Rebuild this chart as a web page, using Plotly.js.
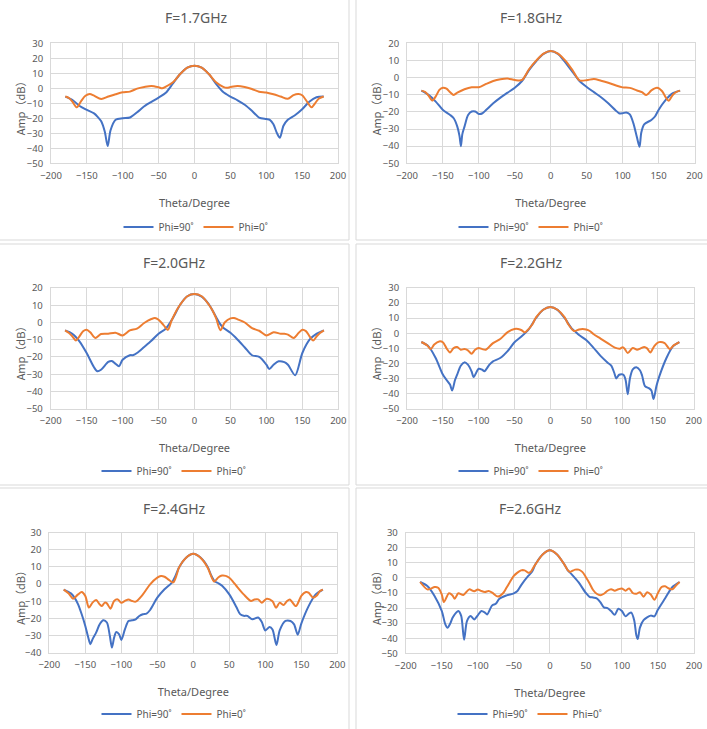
<!DOCTYPE html>
<html>
<head>
<meta charset="utf-8">
<script src="https://cdn.plot.ly/plotly-3.0.1.min.js"></script>
<style>
html, body { margin: 0; padding: 0; background: #fff; }
#chart { width: 707px; height: 729px; }
</style>
</head>
<body>
<div id="chart"></div>
<script>
// radiation pattern cuts, amplitude (dB) against theta (deg)
const titles = ["F=1.7GHz", "F=1.8GHz", "F=2.0GHz", "F=2.2GHz", "F=2.4GHz", "F=2.6GHz"];
const seriesNames = ["Phi=90˚", "Phi=0˚"];
const yRanges = [[-50, 30], [-50, 20], [-50, 20], [-50, 30], [-40, 30], [-50, 30]];

// 1.7 GHz
const theta17_90 = [-180,-170,-160,-150,-140,-135,-130,-125,-121,-117,-110,-100,-90,-80,-70,-60,-50,-40,-30,-20,-10,0,10,20,30,40,50,60,70,80,90,100,105,110,115,119,124,130,140,150,160,170,180];
const amp17_90 = [-5.5,-7.8,-11.8,-14.4,-16.7,-19,-22,-29,-38.5,-28,-21,-20,-19.5,-16,-12,-9,-6.2,-3,3.3,9.5,13.8,15.1,13.8,9.5,3,-2.5,-5.5,-8,-11,-15,-19.5,-20.5,-21,-24,-30,-33,-25,-21,-18,-14,-9,-6,-5.5];
const theta17_0 = [-180,-175,-170,-164,-158,-152,-146,-140,-130,-120,-110,-100,-90,-80,-70,-60,-50,-45,-40,-30,-20,-10,0,10,20,30,40,45,50,60,70,80,90,100,110,120,130,138,145,150,157,163,168,173,180];
const amp17_0 = [-5.5,-6.5,-9,-12.7,-8.5,-5,-3.8,-4.9,-7.1,-5.5,-4,-2.7,-2.2,-0.2,0.9,1.6,0.7,0,1.1,4,9.5,13.8,15.1,13.8,9.5,4,1,0.3,0.8,1.6,0.9,-0.5,-2.3,-2.8,-4,-5.5,-7,-4.5,-3.8,-4.6,-9,-12.7,-10,-7,-5.5];

// 1.8 GHz
const theta18_90 = [-180,-170,-160,-150,-140,-135,-130,-127,-125,-123,-120,-115,-110,-105,-100,-95,-90,-80,-70,-60,-50,-40,-30,-20,-10,0,10,20,30,40,50,60,70,80,90,95,100,105,110,115,120,123.5,126,130,140,145,150,160,170,180];
const amp18_90 = [-7.6,-10.1,-14,-18.9,-21.8,-23.7,-28.6,-34,-40,-33,-28.6,-21.8,-19.8,-19.8,-21.2,-20.8,-18.9,-15,-11.7,-8.8,-5.9,-2,4.5,9.7,13.8,15.5,13.8,9,3.5,-2,-5.5,-8.5,-11.5,-15,-19,-20.8,-20.8,-20.3,-21.5,-26.7,-35,-40.4,-32,-27.3,-24.7,-22.7,-18.9,-13,-9.1,-7.6];
const theta18_0 = [-180,-175,-170,-165,-160,-155,-150,-145,-140,-135,-130,-120,-110,-100,-90,-80,-70,-60,-50,-40,-30,-20,-10,0,10,20,30,40,50,60,70,80,90,100,110,120,127,133,140,148,155,160,164,170,175,180];
const amp18_0 = [-7.6,-8.3,-10.5,-13.4,-11,-7.2,-5.9,-6.5,-8.5,-10.1,-8.8,-6.8,-5.6,-5.6,-3.7,-2,-1,-0.6,-1.4,-1.4,5,10,14,15.5,14,10,4.5,-1.6,-1.5,-0.8,-1.8,-3,-4.5,-5.7,-6,-7.5,-8.5,-10.2,-7.5,-6,-8,-11.5,-13.5,-10,-8.3,-7.6];

// 2.0 GHz
const theta20_90 = [-180,-170,-160,-150,-140,-135,-130,-120,-115,-110,-105,-100,-90,-85,-80,-70,-60,-50,-40,-30,-20,-10,0,10,20,30,35,40,50,60,70,80,90,100,104,110,117,125,130,140,150,160,170,180];
const amp20_90 = [-4.6,-6.5,-10.9,-17.7,-25.8,-28.3,-27.4,-22.9,-22.3,-23.9,-25.4,-21.6,-19,-18.9,-17.7,-14.2,-10.6,-6.5,-3.6,2.6,10.3,15.2,16.5,15,10.5,3.2,-0.5,-3,-6,-10,-14.5,-19,-20,-24.5,-27,-24.5,-22.5,-23,-24.5,-30.6,-17.7,-10,-6.5,-4.6];
const theta20_0 = [-180,-175,-170,-165,-160,-155,-150,-145,-138,-130,-120,-110,-100,-90,-80,-70,-60,-55,-50,-43,-37,-32,-25,-20,-10,0,10,20,25,30,36,42,50,55,60,70,80,90,100,110,120,125,130,138,145,150,155,160,165,170,175,180];
const amp20_0 = [-4.6,-6,-8,-10.4,-8,-5.1,-4.2,-5.7,-9,-6.7,-6.5,-5.9,-7.5,-4.6,-3.6,-0.3,2,2.6,1.6,-1.5,-4.2,1,7,10.3,15.2,16.5,15.2,10.3,7,2.5,-4.5,0,2.4,2.6,1.8,0,-3.3,-4.8,-7.5,-5.7,-6.5,-6.5,-7,-9,-6,-4.2,-5,-8,-10.5,-8,-6,-4.6];

// 2.2 GHz
const theta22_90 = [-180,-170,-160,-150,-145,-140,-137,-133,-130,-125,-120,-115,-110,-107,-100,-95,-92,-85,-80,-70,-60,-50,-40,-30,-20,-10,0,10,20,30,35,40,50,60,70,80,85,89,92,96,102,105,108,111,115,120,125,128,132,138,141,144,148,152,162,171,180];
const amp22_90 = [-5.8,-8.7,-16.4,-27.4,-30.8,-34,-38,-31,-27.4,-21.5,-19.3,-20.8,-25.2,-29,-23.5,-24.2,-25.2,-20.8,-18.6,-16.4,-12,-6,-2,2.8,10.1,15.6,17.4,15.5,10,3,1,-1.2,-4.5,-9.5,-15,-19.5,-21.5,-26,-30,-27.5,-27.5,-31,-40.5,-30,-24,-22.6,-24.5,-28,-35,-36.5,-38,-43.6,-35,-28.6,-16.4,-8.7,-5.8];
const theta22_0 = [-180,-172,-167,-162,-155,-150,-145,-140,-135,-130,-125,-120,-115,-110,-105,-100,-95,-90,-80,-70,-60,-50,-45,-40,-36,-33,-25,-20,-10,0,10,20,25,33,40,45,50,55,60,70,80,90,97,101,104,108,115,121,126,131,135,139.5,145,151.5,159.5,166.5,172,180];
const amp22_0 = [-5.8,-8,-10.5,-7.5,-5.4,-6,-9.8,-12.7,-9.8,-9.1,-10.9,-10.5,-11.3,-13.6,-10.9,-9.8,-10.5,-10.9,-6.5,-3.8,0.6,2.8,2.8,2,0.6,1.5,6,10.5,15.6,17.4,15.6,10.5,6,1.5,2.5,2.8,2.5,1.5,-0.5,-3.5,-6.5,-9.5,-10.2,-9.2,-10.5,-13.1,-9.8,-10.9,-10,-9.1,-10,-12.7,-8.5,-5.9,-6.5,-10.5,-8,-5.8];

// 2.4 GHz
const theta24_90 = [-180,-170,-165,-160,-155,-150,-146,-143,-140,-135,-130,-125,-120,-116,-113,-110,-107,-103,-100,-95,-90,-85,-80,-75,-70,-65,-60,-50,-40,-30,-25,-20,-10,0,10,20,25,30,35,40,50,60,65,70,75,82,90,95,100,106,110,115.5,120,128,135,140,145,150,160,170,180];
const amp24_90 = [-3.2,-5.4,-7.9,-11.8,-17.6,-24.4,-31,-35,-32.2,-28.3,-23.4,-21.1,-22.4,-30,-37,-31.2,-27.9,-29.3,-32.6,-26.4,-21.5,-21.1,-20.5,-18.6,-17.6,-17.2,-15.1,-7.9,-3,0.8,4.7,9.6,15.4,17.7,15.5,10,5,1.5,0.5,-1,-6,-13.5,-17.5,-18.5,-18.5,-20.5,-19.5,-22,-27,-25,-26.5,-35.5,-27,-21.5,-21.5,-23.5,-29.5,-23,-13,-6,-3.2];
const theta24_0 = [-180,-173,-167,-160,-155,-150,-145,-140,-135,-130,-127,-123,-120,-115,-110,-105,-100,-95,-90,-85,-80,-70,-60,-50,-45,-40,-35,-28,-23,-20,-10,0,10,20,24,29,35,40,45,50,55,60,70,80,85,90,95,102,110,115,120,125,130,134,142.5,150,156.5,160,166.5,172,176,180];
const amp24_0 = [-3.2,-5.5,-8.5,-6,-4.6,-6.9,-13.7,-10.8,-9.3,-11.8,-12.8,-10.8,-11.2,-14.3,-9.8,-8.9,-10.8,-9.8,-8.9,-9.8,-10.2,-6,-0.1,3.8,4.7,4.3,2.8,1,5.5,9.6,15.4,17.7,15.4,9.6,5.5,1.5,4,5,4.8,3.7,1.5,-1.1,-6,-9.8,-9,-8.9,-10.8,-8.5,-10,-13.8,-10.8,-12.2,-10,-8.9,-12.8,-6.9,-4.6,-5,-7.9,-6.5,-4,-3.2];

// 2.6 GHz
const theta26_90 = [-180,-170,-160,-150,-145,-142,-138,-135,-130,-127,-123,-119,-115,-110,-105,-100,-95,-90,-87,-80,-75,-70,-60,-50,-45,-40,-30,-25,-20,-10,0,10,20,25,30,40,50,55,60,65,70,75,80,85,90,95,100,105,110,113,117,120,122,125,130,140,145,150,160,170,180];
const amp26_90 = [-2.7,-5.4,-12,-21.9,-30.8,-33,-30,-26.4,-23,-21.9,-25.2,-41,-28.6,-25.2,-27.5,-24.8,-21.9,-23,-24.2,-18.2,-17.1,-13.8,-11.6,-10.2,-8.7,-4.9,1.3,3.9,9,15.6,18.3,15.5,9,5,2.5,-3,-10,-12.5,-13,-13.5,-16,-19.5,-20,-22,-24.5,-20.5,-22,-25.5,-23.5,-23,-28,-38,-40.5,-33,-28,-25,-25.5,-21,-13.5,-6,-2.7];
const theta26_0 = [-180,-170,-165,-160,-155,-150,-147,-140,-135,-132,-127,-120,-112,-105,-100,-95,-90,-85,-80,-72,-65,-60,-50,-45,-40,-35,-30,-27,-22,-20,-10,0,10,20,25,28,35,40,45,50,55,60,65,70,75,80,85,90,95,100,105,110,115,120,125,130,135,140,145,150,155,160,165,170,175,180];
const amp26_0 = [-2.7,-7.6,-7.1,-6,-6.5,-10.9,-16,-10.2,-11.6,-13.8,-10.2,-11.3,-7.6,-8.9,-7.6,-8.7,-9.3,-8.7,-9.8,-12.4,-10.2,-6.4,1.3,3.5,5,5,3.5,3.8,7.5,9,15.6,18.3,15.6,9,5,4,5.5,5.5,4,0.5,-3.5,-8,-10.5,-11.5,-10.5,-8.5,-7.5,-8.5,-7.5,-7,-8.5,-7,-10,-10.5,-9.5,-12.5,-9.5,-11,-14.5,-10,-6,-5.5,-7,-7.5,-5,-2.7];

const panelData = [
  [theta17_90, amp17_90, theta17_0, amp17_0],
  [theta18_90, amp18_90, theta18_0, amp18_0],
  [theta20_90, amp20_90, theta20_0, amp20_0],
  [theta22_90, amp22_90, theta22_0, amp22_0],
  [theta24_90, amp24_90, theta24_0, amp24_0],
  [theta26_90, amp26_90, theta26_0, amp26_0]
];

// pixel boxes of the plot areas, plus where each panel's title, y title and legend sit
const W = 707, H = 729;
const boxes = [
  {l: 51, r: 338, t: 43.3, b: 163.3, cx: 196, ty: 17, yx: 20, ly: 227},
  {l: 407, r: 694.5, t: 43.3, b: 163.3, cx: 531, ty: 17, yx: 376, ly: 227},
  {l: 50.7, r: 338.3, t: 288, b: 408.7, cx: 174, ty: 262, yx: 20, ly: 471},
  {l: 407, r: 693.7, t: 288, b: 408.7, cx: 531, ty: 262, yx: 376, ly: 471},
  {l: 49.3, r: 337.3, t: 532.7, b: 652.7, cx: 174, ty: 508, yx: 20, ly: 714},
  {l: 405.7, r: 694, t: 532.7, b: 653.3, cx: 530, ty: 508, yx: 376, ly: 714}
];
const frames = [
  [-1, -1, 349, 240], [356, -1, 708, 240],
  [-1, 244, 349, 485], [356, 244, 708, 485],
  [-1, 488, 349, 730], [356, 488, 708, 730]
];

const px = x => x / W;
const py = y => 1 - y / H;

const textColor = "#595959";
const gridColor = "#d9d9d9";
const colors = ["#4472c4", "#ed7d31"];
const font = "Noto Sans, Noto Sans CJK SC, sans-serif";

let traces = [];
let layout = {
  width: W, height: H,
  margin: {l: 0, r: 0, t: 0, b: 0},
  paper_bgcolor: "#fff", plot_bgcolor: "#fff",
  font: {family: font, color: textColor, size: 10},
  annotations: [],
  shapes: []
};

boxes.forEach((b, i) => {
  const n = i === 0 ? "" : String(i + 1);
  const d = panelData[i];
  [0, 1].forEach(s => {
    traces.push({
      type: "scatter", mode: "lines",
      x: d[s * 2], y: d[s * 2 + 1],
      name: seriesNames[s],
      xaxis: "x" + n, yaxis: "y" + n,
      legend: "legend" + n,
      line: {color: colors[s], width: 2, shape: "spline", smoothing: 0.8},
      hoverinfo: "x+y"
    });
  });

  layout["xaxis" + n] = {
    domain: [px(b.l), px(b.r)],
    anchor: "y" + n,
    range: [-200, 200], dtick: 50,
    showgrid: true, gridcolor: gridColor, zeroline: false,
    showline: true, linecolor: gridColor, mirror: true,
    ticks: "", ticklabelstandoff: 3,
    tickfont: {size: 9.5, color: textColor},
    title: {text: "Theta/Degree", font: {size: 11, color: textColor}, standoff: 18}
  };
  layout["yaxis" + n] = {
    domain: [py(b.b), py(b.t)],
    anchor: "x" + n,
    range: yRanges[i], dtick: 10,
    showgrid: true, gridcolor: gridColor, zeroline: false,
    showline: true, linecolor: gridColor, mirror: true,
    ticks: "", ticklabelstandoff: 5,
    tickfont: {size: 9.5, color: textColor}
  };
  layout["legend" + n] = {
    orientation: "h",
    x: px(b.cx), xanchor: "center",
    y: py(b.ly), yanchor: "middle",
    font: {size: 10, color: textColor},
    itemwidth: 30,
    bgcolor: "rgba(0,0,0,0)"
  };
  layout.annotations.push({
    text: titles[i], showarrow: false,
    xref: "paper", yref: "paper",
    x: px(b.cx), y: py(b.ty), xanchor: "center", yanchor: "middle",
    font: {size: 14, color: textColor}
  });
  // y axis title, placed like the original
  layout.annotations.push({
    text: "Amp（dB）", showarrow: false, textangle: -90,
    xref: "paper", yref: "paper",
    x: px(b.yx), y: py((b.t + b.b) / 2 + 2), xanchor: "center", yanchor: "middle",
    font: {family: "Noto Sans CJK SC, Noto Sans CJK JP", size: 11, color: textColor}
  });
});

frames.forEach(f => {
  layout.shapes.push({
    type: "rect", xref: "paper", yref: "paper",
    x0: px(f[0]), x1: px(f[2]), y0: py(f[3]), y1: py(f[1]),
    line: {color: gridColor, width: 1}, layer: "below"
  });
});

Plotly.newPlot("chart", traces, layout, {displayModeBar: false, staticPlot: true});
</script>
</body>
</html>
